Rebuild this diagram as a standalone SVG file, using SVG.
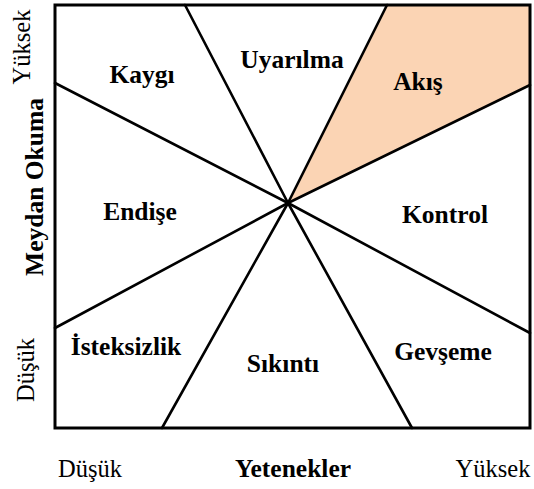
<svg xmlns="http://www.w3.org/2000/svg" width="534" height="489" viewBox="0 0 534 489">
<style>
.ln{stroke:#000;stroke-width:2.6;fill:none;stroke-linecap:round}
.lb{font-family:"Liberation Serif","Times New Roman",serif;font-weight:bold;font-size:25.5px;fill:#000;text-anchor:middle}
.ax{font-family:"Liberation Serif","Times New Roman",serif;font-size:24.5px;fill:#000;text-anchor:middle}
</style>
<rect width="534" height="489" fill="#fff"/>
<g id="akis-region"><polygon points="387,5 530,5 530,85 288,203" fill="#FBD4B4"/></g>
<g id="connectors">
<line class="ln" x1="185" y1="5" x2="288" y2="203"/>
<line class="ln" x1="387" y1="5" x2="288" y2="203"/>
<line class="ln" x1="530" y1="85" x2="288" y2="203"/>
<line class="ln" x1="530" y1="333" x2="288" y2="203"/>
<line class="ln" x1="412" y1="428" x2="288" y2="203"/>
<line class="ln" x1="162" y1="428" x2="288" y2="203"/>
<line class="ln" x1="55" y1="328" x2="288" y2="203"/>
<line class="ln" x1="55" y1="83" x2="288" y2="203"/>
</g>
<g id="frame"><rect x="55" y="5" width="475" height="423" fill="none" stroke="#000" stroke-width="3"/></g>
<g id="kaygi"><text class="lb" x="142" y="83">Kaygı</text></g>
<g id="uyarilma"><text class="lb" x="292" y="68">Uyarılma</text></g>
<g id="akis"><text class="lb" x="418" y="90">Akış</text></g>
<g id="endise"><text class="lb" x="140" y="220">Endişe</text></g>
<g id="kontrol"><text class="lb" x="445" y="223">Kontrol</text></g>
<g id="isteksizlik"><text class="lb" x="126" y="355">İsteksizlik</text></g>
<g id="sikinti"><text class="lb" x="283" y="372">Sıkıntı</text></g>
<g id="gevseme"><text class="lb" x="443" y="360">Gevşeme</text></g>
<g id="x-axis">
<text class="ax" x="90" y="477">Düşük</text>
<text class="lb" x="293" y="477">Yetenekler</text>
<text class="ax" x="493" y="477">Yüksek</text>
</g>
<g id="y-axis">
<text class="ax" transform="translate(30,47) rotate(-90)">Yüksek</text>
<text class="lb" transform="translate(43,187) rotate(-90)">Meydan Okuma</text>
<text class="ax" transform="translate(34,370) rotate(-90)">Düşük</text>
</g>
</svg>
